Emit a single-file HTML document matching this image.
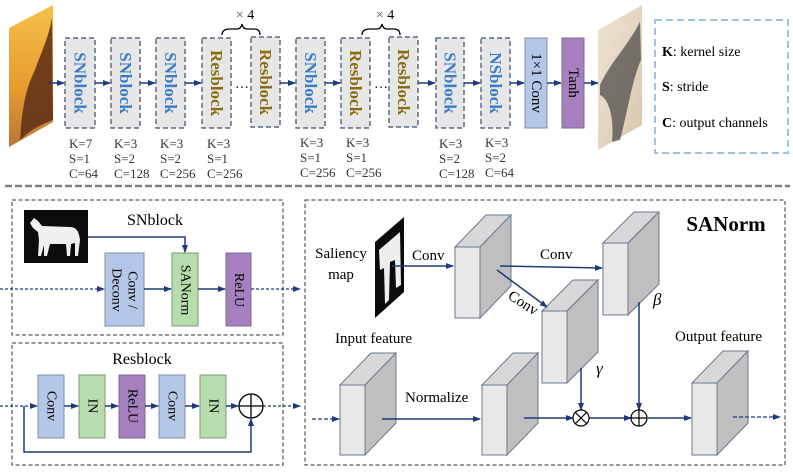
<!DOCTYPE html>
<html><head><meta charset="utf-8"><style>
html,body{margin:0;padding:0;background:#fff;}
svg{display:block;font-family:"Liberation Serif",serif;}
.c{dominant-baseline:central;}
</style></head><body>
<svg width="793" height="475" viewBox="0 0 793 475" xmlns="http://www.w3.org/2000/svg">
<defs>
<marker id="a" markerWidth="8" markerHeight="8" refX="7" refY="4" orient="auto" markerUnits="userSpaceOnUse"><path d="M0,1 L8,4 L0,7 Z" fill="#1f3a7a"/></marker>
<linearGradient id="g1" x1="0" y1="0" x2="0" y2="1"><stop offset="0" stop-color="#f7c04a"/><stop offset="0.6" stop-color="#e59a2e"/><stop offset="1" stop-color="#b8773a"/></linearGradient>
<linearGradient id="g2" x1="0" y1="0" x2="1" y2="1"><stop offset="0" stop-color="#efe4d2"/><stop offset="1" stop-color="#d9c6ae"/></linearGradient>
</defs>
<!-- input image -->
<polygon points="9,28 53,5 53,122 9,147" fill="url(#g1)"/>
<path d="M20,140 C22,110 25,90 35,70 C40,55 48,40 52,18 L53,120 C40,125 30,130 20,140Z" fill="#5a2d14" opacity="0.85"/>
<!-- output image -->
<polygon points="598,30 642,5 642,125 598,150" fill="url(#g2)"/>
<path d="M600,85 C612,60 625,50 640,22 L641,60 C632,80 628,110 620,140 L612,142 C614,120 610,100 600,95Z" fill="#444" opacity="0.7"/>
<!-- top blocks -->
<g fill="#e7e7e7" stroke="#5a6b82" stroke-width="1.5" stroke-dasharray="5,3">
<rect x="65" y="38" width="30" height="90"/>
<rect x="111" y="38" width="29" height="90"/>
<rect x="156" y="38" width="29" height="90"/>
<rect x="202" y="38" width="29" height="90"/>
<rect x="251" y="37" width="29" height="90"/>
<rect x="296" y="38" width="29" height="90"/>
<rect x="341" y="38" width="29" height="90"/>
<rect x="389" y="37" width="29" height="90"/>
<rect x="436" y="38" width="28" height="90"/>
<rect x="481" y="38" width="29" height="90"/>
</g>
<rect x="525" y="38" width="22" height="90" fill="#b4c7e7" stroke="#7f8fa8"/>
<rect x="562" y="38" width="22" height="90" fill="#a580bf" stroke="#7f6a92"/>
<g font-weight="bold" font-size="17" text-anchor="middle" class="c">
<text class="c" transform="translate(80,83) rotate(90)" fill="#3b7cc6">SNblock</text>
<text class="c" transform="translate(125.5,83) rotate(90)" fill="#3b7cc6">SNblock</text>
<text class="c" transform="translate(170.5,83) rotate(90)" fill="#3b7cc6">SNblock</text>
<text class="c" transform="translate(216.5,83) rotate(90)" fill="#8a6d12">Resblock</text>
<text class="c" transform="translate(265.5,82) rotate(90)" fill="#8a6d12">Resblock</text>
<text class="c" transform="translate(310.5,83) rotate(90)" fill="#3b7cc6">SNblock</text>
<text class="c" transform="translate(355.5,83) rotate(90)" fill="#8a6d12">Resblock</text>
<text class="c" transform="translate(403.5,82) rotate(90)" fill="#8a6d12">Resblock</text>
<text class="c" transform="translate(450,83) rotate(90)" fill="#3b7cc6">SNblock</text>
<text class="c" transform="translate(495.5,83) rotate(90)" fill="#3b7cc6">NSblock</text>
</g>
<g font-size="15" text-anchor="middle">
<text class="c" transform="translate(536,83) rotate(90)">1×1 Conv</text>
<text class="c" transform="translate(573,83) rotate(90)">Tanh</text>
</g>
<text x="242" y="88" font-size="14" text-anchor="middle">…</text>
<text x="381" y="88" font-size="14" text-anchor="middle">…</text>
<!-- braces -->
<path d="M222,35 Q222,29 230,29 L237,29 Q241,29 242,24 Q243,29 247,29 L254,29 Q260,29 260,35" fill="none" stroke="#000" stroke-width="1.3"/>
<path d="M362,35 Q362,29 370,29 L377,29 Q381,29 382,24 Q383,29 387,29 L394,29 Q400,29 400,35" fill="none" stroke="#000" stroke-width="1.3"/>
<text x="245" y="19" font-size="14" text-anchor="middle"><tspan fill="#555">×</tspan> 4</text>
<text x="385" y="19" font-size="14" text-anchor="middle"><tspan fill="#555">×</tspan> 4</text>
<!-- top arrows -->
<g stroke="#1f3a7a" stroke-width="1.5" marker-end="url(#a)">
<line x1="48" y1="83" x2="64" y2="83"/>
<line x1="95" y1="83" x2="110" y2="83"/>
<line x1="140" y1="83" x2="155" y2="83"/>
<line x1="185" y1="83" x2="201" y2="83"/>
<line x1="280" y1="83" x2="295" y2="83"/>
<line x1="325" y1="83" x2="340" y2="83"/>
<line x1="418" y1="83" x2="435" y2="83"/>
<line x1="464" y1="83" x2="480" y2="83"/>
<line x1="510" y1="83" x2="524" y2="83"/>
<line x1="547" y1="83" x2="561" y2="83"/>
<line x1="584" y1="83" x2="598" y2="83"/>
</g>
<g font-size="13" fill="#333">
<text x="69" y="148">K=7</text><text x="69" y="163">S=1</text><text x="69" y="178">C=64</text>
<text x="114" y="148">K=3</text><text x="114" y="163">S=2</text><text x="114" y="178">C=128</text>
<text x="160" y="148">K=3</text><text x="160" y="163">S=2</text><text x="160" y="178">C=256</text>
<text x="207" y="148">K=3</text><text x="207" y="163">S=1</text><text x="207" y="178">C=256</text>
<text x="300" y="147">K=3</text><text x="300" y="162">S=1</text><text x="300" y="177">C=256</text>
<text x="346" y="147">K=3</text><text x="346" y="162">S=1</text><text x="346" y="177">C=256</text>
<text x="439" y="148">K=3</text><text x="439" y="163">S=2</text><text x="439" y="178">C=128</text>
<text x="485" y="147">K=3</text><text x="485" y="162">S=2</text><text x="485" y="177">C=64</text>
</g>
<!-- legend -->
<rect x="655" y="20" width="133" height="133" fill="none" stroke="#9dc3e6" stroke-width="2" stroke-dasharray="7,4"/>
<g font-size="14">
<text x="662" y="56"><tspan font-weight="bold">K</tspan>: kernel size</text>
<text x="662" y="91"><tspan font-weight="bold">S</tspan>: stride</text>
<text x="662" y="127"><tspan font-weight="bold">C</tspan>: output channels</text>
</g>
<!-- separator -->
<line x1="5" y1="186" x2="790" y2="186" stroke="#808080" stroke-width="2.5" stroke-dasharray="7,3"/>
<!-- bottom boxes -->
<g fill="none" stroke="#333" stroke-width="1" stroke-dasharray="4,2.5">
<rect x="12" y="200" width="271" height="135"/>
<rect x="12" y="343" width="271" height="122"/>
<rect x="305" y="200" width="480" height="265"/>
</g>
<!-- SNblock -->
<rect x="24" y="210" width="64" height="53" fill="#0b0b0b"/>
<path d="M30,223 L34,218 L38,221 L42,226 L70,227 C76,227 79,231 80,240 L78,256 L75,256 L75,243 L71,244 L70,256 L67,256 L66,244 L50,244 L47,256 L44,256 L44,245 L41,256 L38,256 L39,240 L38,232 L33,228 Z" fill="#f0f0f0"/>
<text x="155" y="225" font-size="16" text-anchor="middle">SNblock</text>
<path d="M88,237 L185,237 L185,252" fill="none" stroke="#1f3a7a" stroke-width="1.5" marker-end="url(#a)"/>
<rect x="105" y="253" width="39" height="73" fill="#b4c7e7" stroke="#7f8fa8"/>
<rect x="172" y="253" width="26" height="73" fill="#b7dcae" stroke="#7f9a78"/>
<rect x="226" y="253" width="25" height="73" fill="#a580bf" stroke="#7f6a92"/>
<g font-size="14" text-anchor="middle">
<text class="c" transform="translate(124.5,290) rotate(90)"><tspan x="0" y="-8">Conv /</tspan><tspan x="0" y="8">Deconv</tspan></text>
<text class="c" transform="translate(185,290) rotate(90)">SANorm</text>
<text class="c" transform="translate(238.5,290) rotate(90)">ReLU</text>
</g>
<line x1="0" y1="289" x2="104" y2="289" stroke="#1f3a7a" stroke-width="1.3" stroke-dasharray="3,2" marker-end="url(#a)"/>
<line x1="144" y1="289" x2="171" y2="289" stroke="#1f3a7a" stroke-width="1.5" marker-end="url(#a)"/>
<line x1="198" y1="289" x2="225" y2="289" stroke="#1f3a7a" stroke-width="1.5" marker-end="url(#a)"/>
<line x1="251" y1="289" x2="300" y2="289" stroke="#1f3a7a" stroke-width="1.3" stroke-dasharray="3,2" marker-end="url(#a)"/>
<!-- Resblock -->
<text x="142" y="364" font-size="16" text-anchor="middle">Resblock</text>
<rect x="38" y="375" width="26" height="63" fill="#b4c7e7" stroke="#7f8fa8"/>
<rect x="79" y="375" width="26" height="63" fill="#b7dcae" stroke="#7f9a78"/>
<rect x="119" y="375" width="26" height="63" fill="#a580bf" stroke="#7f6a92"/>
<rect x="159" y="375" width="26" height="63" fill="#b4c7e7" stroke="#7f8fa8"/>
<rect x="200" y="375" width="26" height="63" fill="#b7dcae" stroke="#7f9a78"/>
<g font-size="14" text-anchor="middle">
<text class="c" transform="translate(51,406) rotate(90)">Conv</text>
<text class="c" transform="translate(92,406) rotate(90)">IN</text>
<text class="c" transform="translate(132,406) rotate(90)">ReLU</text>
<text class="c" transform="translate(172,406) rotate(90)">Conv</text>
<text class="c" transform="translate(213,406) rotate(90)">IN</text>
</g>
<line x1="0" y1="406" x2="37" y2="406" stroke="#1f3a7a" stroke-width="1.3" stroke-dasharray="3,2" marker-end="url(#a)"/>
<g stroke="#1f3a7a" stroke-width="1.5" marker-end="url(#a)">
<line x1="64" y1="406" x2="78" y2="406"/>
<line x1="105" y1="406" x2="118" y2="406"/>
<line x1="145" y1="406" x2="158" y2="406"/>
<line x1="185" y1="406" x2="199" y2="406"/>
<line x1="226" y1="406" x2="238" y2="406"/>
</g>
<path d="M24,406 L24,452 L251,452 L251,419" fill="none" stroke="#1f3a7a" stroke-width="1.5" marker-end="url(#a)"/>
<circle cx="251" cy="406" r="12" fill="#fff" stroke="#000" stroke-width="1.3"/>
<path d="M239,406 H263 M251,394 V418" stroke="#000" stroke-width="1.3"/>
<line x1="263" y1="406" x2="300" y2="406" stroke="#1f3a7a" stroke-width="1.3" stroke-dasharray="3,2" marker-end="url(#a)"/>
<!-- SANorm -->
<text x="726" y="231" font-size="21" font-weight="bold" text-anchor="middle">SANorm</text>
<text x="341" y="258" font-size="15" text-anchor="middle">Saliency</text>
<text x="341" y="279" font-size="15" text-anchor="middle">map</text>
<polygon points="375,242 404,217 404,292 375,318" fill="#0b0b0b"/>
<path d="M379,250 L400,232 L401,285 L396,288 L395,260 L390,262 L389,300 L385,304 L384,268 L380,270 Z" fill="#eee"/>
<!-- cubes -->
<g stroke="#6a7a90" stroke-width="1">
<polygon points="455,247 486,215 511,215 480,247" fill="#d8d8d8"/>
<polygon points="480,247 511,215 511,286 480,318" fill="#bfbfbf"/>
<rect x="455" y="247" width="25" height="71" fill="#e8e8e8"/>
<polygon points="542,311 573,280 598,280 567,311" fill="#d8d8d8"/>
<polygon points="567,311 598,280 598,352 567,383" fill="#bfbfbf"/>
<rect x="542" y="311" width="25" height="72" fill="#e8e8e8"/>
<polygon points="603,243 634,212 659,212 628,243" fill="#d8d8d8"/>
<polygon points="628,243 659,212 659,284 628,315" fill="#bfbfbf"/>
<rect x="603" y="243" width="25" height="72" fill="#e8e8e8"/>
<polygon points="340,385 371,353 396,353 365,385" fill="#d8d8d8"/>
<polygon points="365,385 396,353 396,423 365,455" fill="#bfbfbf"/>
<rect x="340" y="385" width="25" height="70" fill="#e8e8e8"/>
<polygon points="482,385 513,353 538,353 507,385" fill="#d8d8d8"/>
<polygon points="507,385 538,353 538,423 507,455" fill="#bfbfbf"/>
<rect x="482" y="385" width="25" height="70" fill="#e8e8e8"/>
<polygon points="692,383 723,351 748,351 717,383" fill="#d8d8d8"/>
<polygon points="717,383 748,351 748,423 717,455" fill="#bfbfbf"/>
<rect x="692" y="383" width="25" height="72" fill="#e8e8e8"/>
</g>
<g font-size="15">
<text x="412" y="260">Conv</text>
<text x="540" y="259">Conv</text>
<text transform="translate(507,298) rotate(33)">Conv</text>
<text x="335" y="343">Input feature</text>
<text x="675" y="341">Output feature</text>
<text x="405" y="402">Normalize</text>
<text x="596" y="374" font-style="italic" font-size="17">γ</text>
<text x="653" y="305" font-style="italic" font-size="17">β</text>
</g>
<g stroke="#1f3a7a" stroke-width="1.5" fill="none" marker-end="url(#a)">
<line x1="392" y1="266" x2="453" y2="266"/>
<line x1="500" y1="266" x2="602" y2="268"/>
<line x1="497" y1="270" x2="547" y2="307"/>
<line x1="382" y1="419" x2="480" y2="419"/>
<line x1="524" y1="418" x2="573" y2="418"/>
<line x1="589" y1="418" x2="631" y2="418"/>
<line x1="648" y1="418" x2="691" y2="418"/>
<line x1="581" y1="368" x2="581" y2="410"/>
<line x1="639" y1="302" x2="639" y2="410"/>
</g>
<line x1="312" y1="419" x2="339" y2="419" stroke="#1f3a7a" stroke-width="1.3" stroke-dasharray="4,2" marker-end="url(#a)"/>
<line x1="733" y1="417" x2="780" y2="417" stroke="#1f3a7a" stroke-width="1.3" stroke-dasharray="4,2" marker-end="url(#a)"/>
<circle cx="581" cy="418" r="8" fill="#fff" stroke="#000" stroke-width="1.2"/>
<path d="M575.5,412.5 L586.5,423.5 M586.5,412.5 L575.5,423.5" stroke="#000" stroke-width="1.2"/>
<circle cx="639" cy="418" r="8" fill="#fff" stroke="#000" stroke-width="1.2"/>
<path d="M631,418 H647 M639,410 V426" stroke="#000" stroke-width="1.2"/>
</svg>
</body></html>
